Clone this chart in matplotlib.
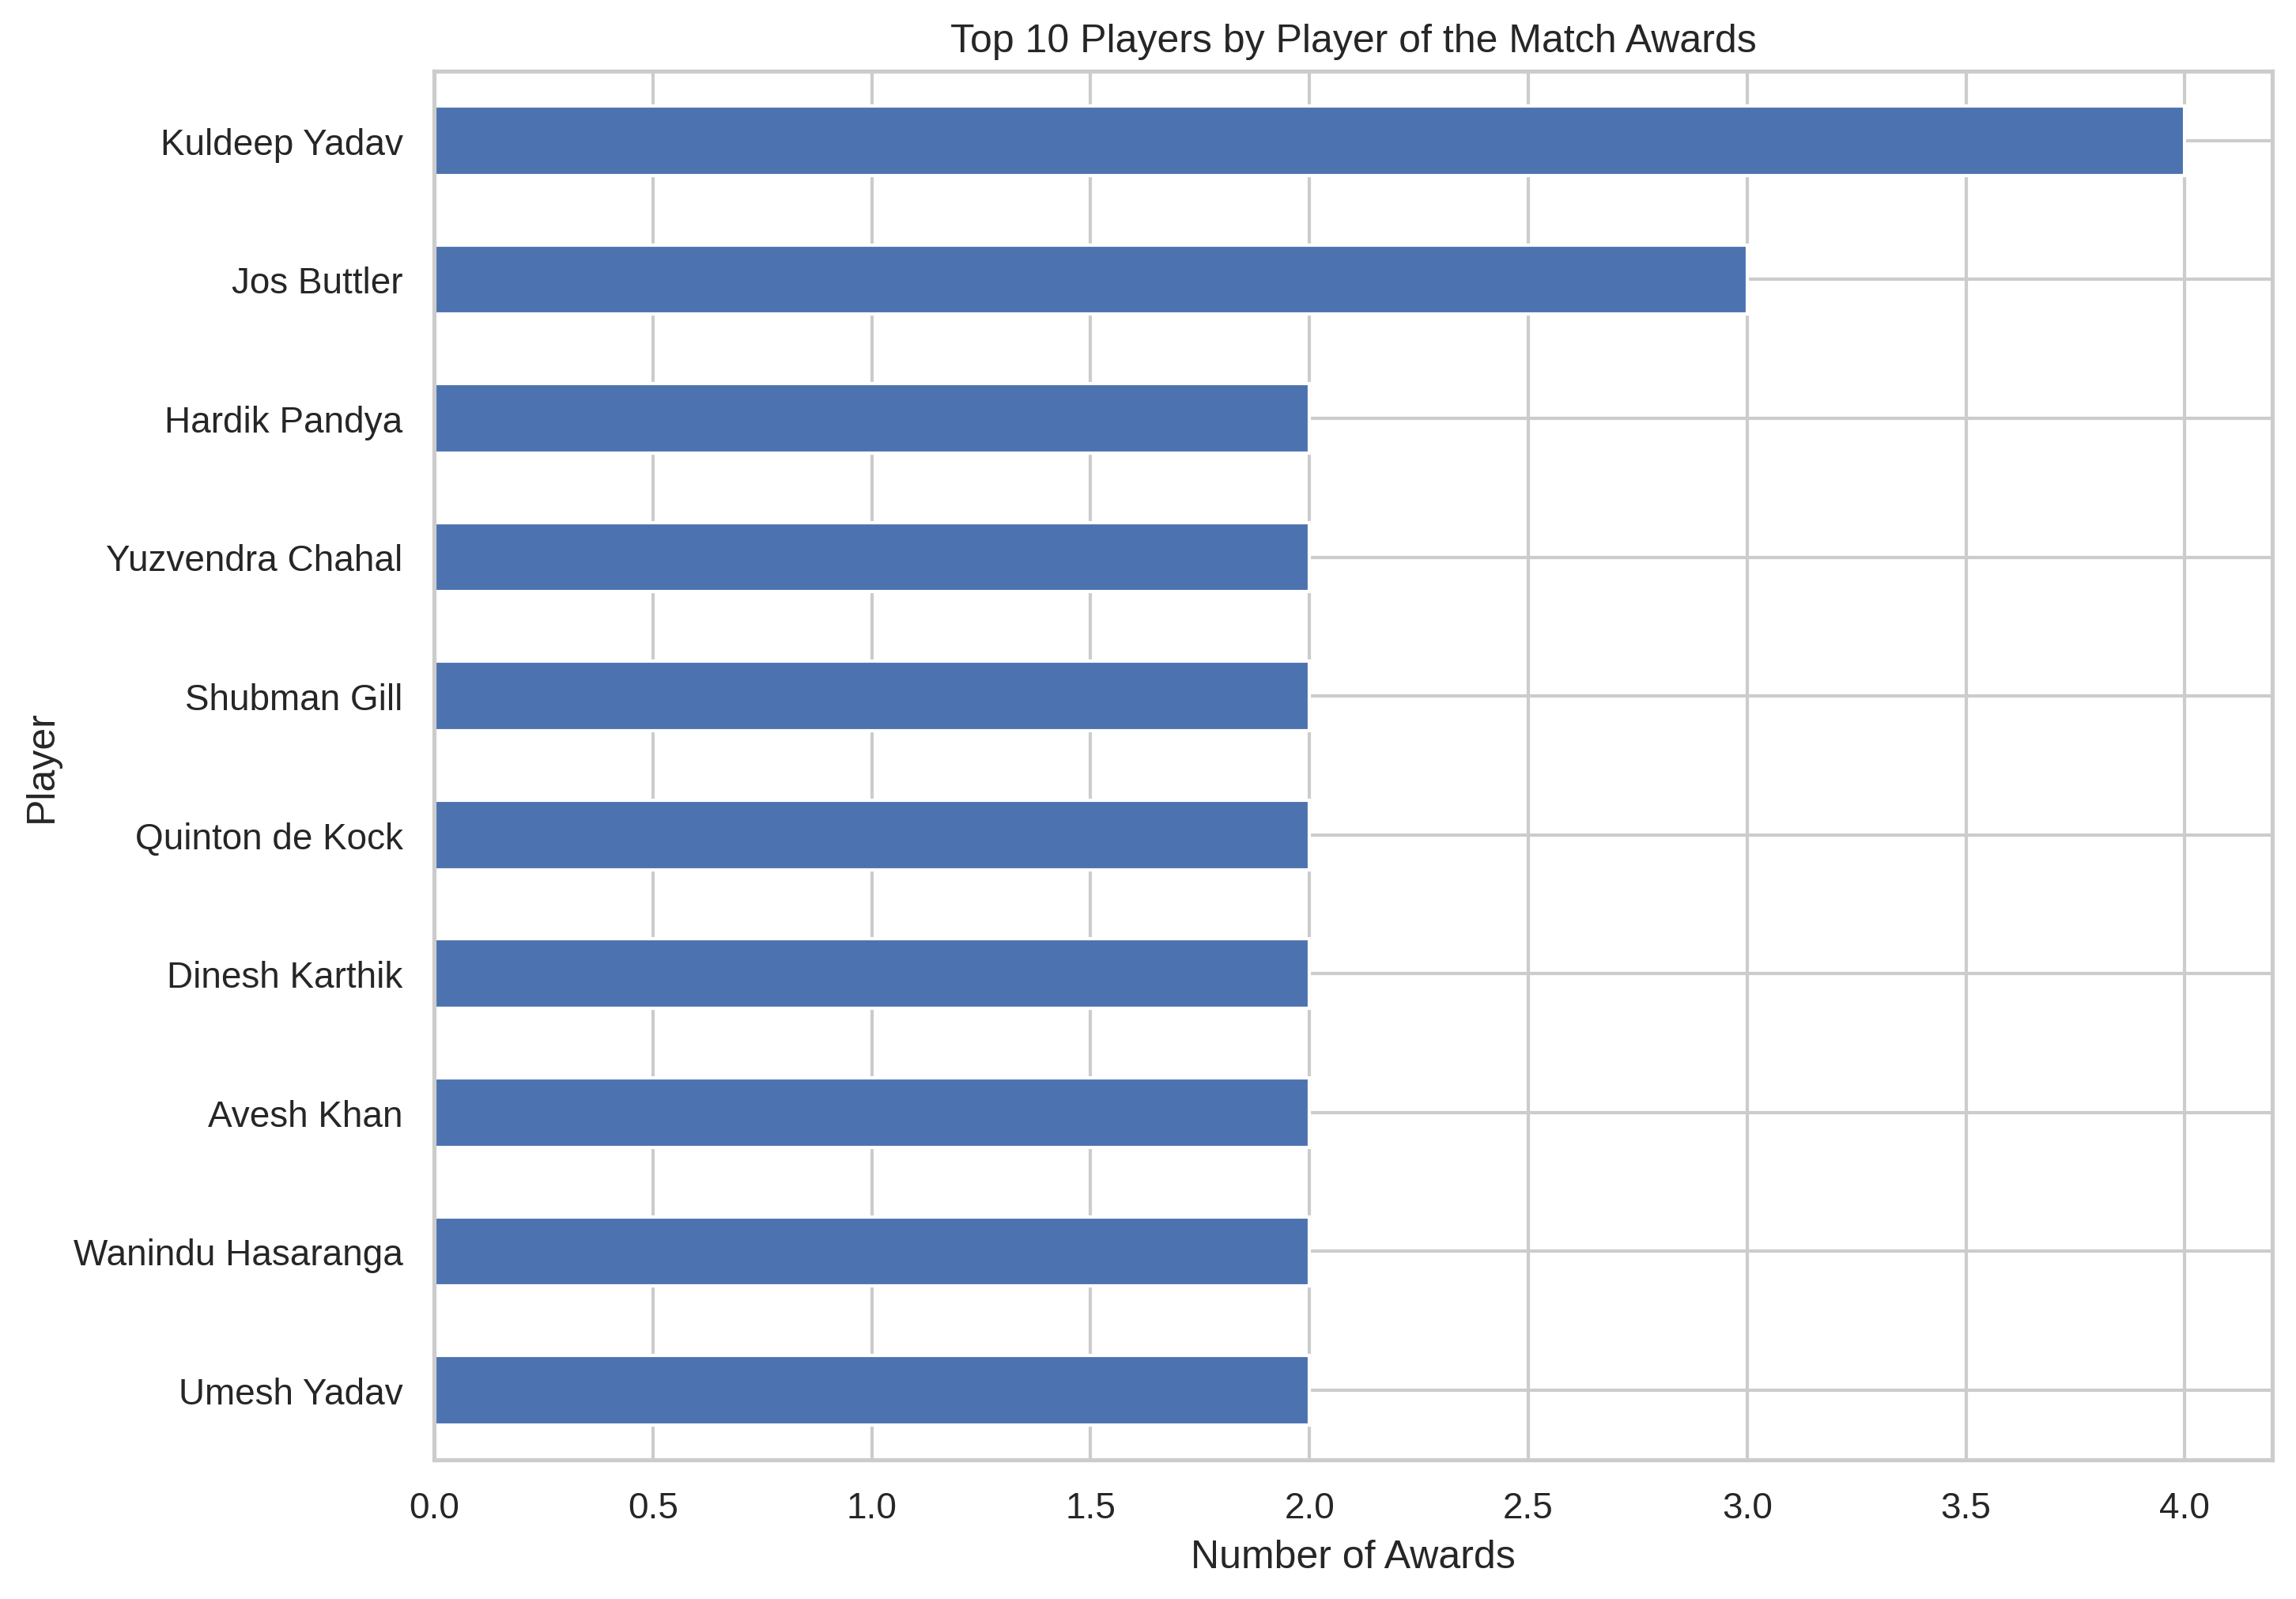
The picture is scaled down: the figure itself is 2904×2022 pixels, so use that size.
import matplotlib
matplotlib.use("Agg")
import matplotlib.pyplot as plt
import seaborn as sns

players = ["Kuldeep Yadav", "Jos Buttler", "Hardik Pandya", "Yuzvendra Chahal",
           "Shubman Gill", "Quinton de Kock", "Dinesh Karthik", "Avesh Khan",
           "Wanindu Hasaranga", "Umesh Yadav"]
awards = [4, 3, 2, 2, 2, 2, 2, 2, 2, 2]

sns.set_theme(style="whitegrid")
plt.rcParams['font.family'] = ['Liberation Sans', 'DejaVu Sans']

fig, ax = plt.subplots(figsize=(10, 7.6))
ypos = list(range(len(players)))[::-1]
ax.barh(ypos, awards, height=0.5, color="#4c72b0", zorder=2)
ax.set_yticks(ypos)
ax.set_yticklabels(players)
ax.set_ylim(-0.5, len(players) - 0.5)
ax.set_xlabel("Number of Awards")
ax.set_ylabel("Player")
ax.set_title("Top 10 Players by Player of the Match Awards")

fig.savefig("out.png", dpi=300, bbox_inches="tight")
